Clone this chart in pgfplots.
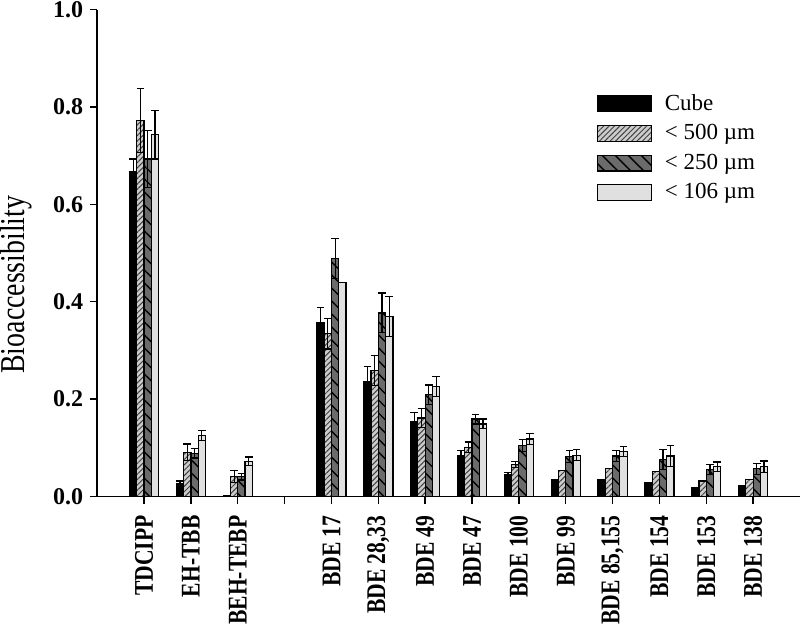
\documentclass[border=0pt]{standalone}
\usepackage{fontspec}
\setmainfont{Liberation Serif}
\newfontfamily\narrowfont{Liberation Serif}[FakeStretch=0.8]
\usepackage{pgfplots}
\pgfplotsset{compat=1.18}
\usetikzlibrary{patterns.meta}

\definecolor{g500}{gray}{0.80}
\definecolor{g250}{gray}{0.42}
\definecolor{g106}{gray}{0.88}

\pgfplotsset{
  boxlegend/.style={legend image code/.code={%
      \draw[##1] (0pt,-3.9pt) rectangle (27pt,3.9pt);}},
}

\begin{document}
\begin{tikzpicture}
\begin{axis}[
    scale only axis,
    width=351.4pt, height=243.5pt,
    ybar=0pt, bar width=3.65pt,
    xmin=-1, xmax=14, ymin=0, ymax=1,
    axis x line*=bottom, axis y line*=left,
    axis line style={line width=0.7pt},
    tick align=outside, major tick length=3.5pt,
    tick style={line width=0.7pt, black},
    xtick={0,...,13},
    xticklabels={TDCIPP,EH-TBB,BEH-TEBP,{},BDE 17,{BDE 28,33},BDE 49,BDE 47,
                 BDE 100,BDE 99,{BDE 85,155},BDE 154,BDE 153,BDE 138},
    xticklabel style={rotate=90, anchor=east, font=\narrowfont\fontsize{13.5}{15}\selectfont\bfseries},
    xticklabel shift=2.5pt,
    ytick={0,0.2,0.4,0.6,0.8,1.0},
    yticklabel style={font=\fontsize{12}{14}\selectfont\bfseries,
        /pgf/number format/.cd, fixed, fixed zerofill, precision=1, assume math mode=true},
    ylabel={Bioaccessibility},
    ylabel style={font=\narrowfont\fontsize{17.4}{19}\selectfont,
        at={(rel axis cs:-0.1038,0.435)}, anchor=base},
    legend style={at={(0.7016,0.843)}, anchor=north west, draw=none, fill=none,
        font=\fontsize{11.5}{13}\selectfont, row sep=1.6pt, column sep=4.5pt},
    legend cell align=left,
    every axis plot post/.append style={boxlegend},
    error bars/y dir=both, error bars/y explicit,
    error bars/error bar style={line width=0.6pt, black},
    error bars/error mark options={rotate=90, mark size=1.9pt, line width=0.6pt, black},
]
\coordinate (O) at (rel axis cs:0,0);

% Cube
\addplot[draw=black, line width=0.6pt, fill=black] coordinates {
    (0,0.667) +- (0,0.026)
    (1,0.026) +- (0,0.006)
    (2,0.002) +- (0,0)
    (4,0.358) +- (0,0.030)
    (5,0.236) +- (0,0.031)
    (6,0.153) +- (0,0.020)
    (7,0.084) +- (0,0.010)
    (8,0.045) +- (0,0.005)
    (9,0.035) +- (0,0)
    (10,0.035) +- (0,0)
    (11,0.028) +- (0,0)
    (12,0.019) +- (0,0)
    (13,0.022) +- (0,0)
};

% < 500 um
\addplot[draw=black, line width=0.6pt, fill=g500,
    postaction={pattern={Lines[angle=45,distance=1.9pt,line width=0.5pt]}, pattern color=black!75}] coordinates {
    (0,0.772) +- (0,0.065)
    (1,0.091) +- (0,0.017)
    (2,0.041) +- (0,0.013)
    (4,0.334) +- (0,0.031)
    (5,0.259) +- (0,0.031)
    (6,0.161) +- (0,0.020)
    (7,0.101) +- (0,0.011)
    (8,0.066) +- (0,0.006)
    (9,0.053) +- (0,0)
    (10,0.057) +- (0,0)
    (11,0.051) +- (0,0)
    (12,0.032) +- (0,0)
    (13,0.035) +- (0,0)
};

% < 250 um
\addplot[draw=black, line width=0.6pt, fill=g250,
    postaction={pattern={Lines[angle=-45,distance=4.6pt,line width=0.7pt]}, pattern color=black}] coordinates {
    (0,0.693) +- (0,0.059)
    (1,0.089) +- (0,0.010)
    (2,0.041) +- (0,0.007)
    (4,0.488) +- (0,0.041)
    (5,0.377) +- (0,0.041)
    (6,0.209) +- (0,0.020)
    (7,0.159) +- (0,0.010)
    (8,0.105) +- (0,0.012)
    (9,0.082) +- (0,0.012)
    (10,0.083) +- (0,0.011)
    (11,0.076) +- (0,0.020)
    (12,0.056) +- (0,0.010)
    (13,0.057) +- (0,0.011)
};

% < 106 um
\addplot[draw=black, line width=0.6pt, fill=g106] coordinates {
    (0,0.743) +- (0,0.050)
    (1,0.125) +- (0,0.010)
    (2,0.072) +- (0,0.009)
    (4,0.440) +- (0,0)
    (5,0.370) +- (0,0.041)
    (6,0.226) +- (0,0.020)
    (7,0.149) +- (0,0.010)
    (8,0.118) +- (0,0.011)
    (9,0.085) +- (0,0.011)
    (10,0.092) +- (0,0.010)
    (11,0.083) +- (0,0.021)
    (12,0.061) +- (0,0.010)
    (13,0.061) +- (0,0.012)
};

\legend{Cube, < 500 µm, < 250 µm, < 106 µm}
\end{axis}
\pgfresetboundingbox
\path[use as bounding box] ([shift={(-48.6pt,-68.25pt)}]O) rectangle ([shift={(351.4pt,248.25pt)}]O);
\end{tikzpicture}
\end{document}
